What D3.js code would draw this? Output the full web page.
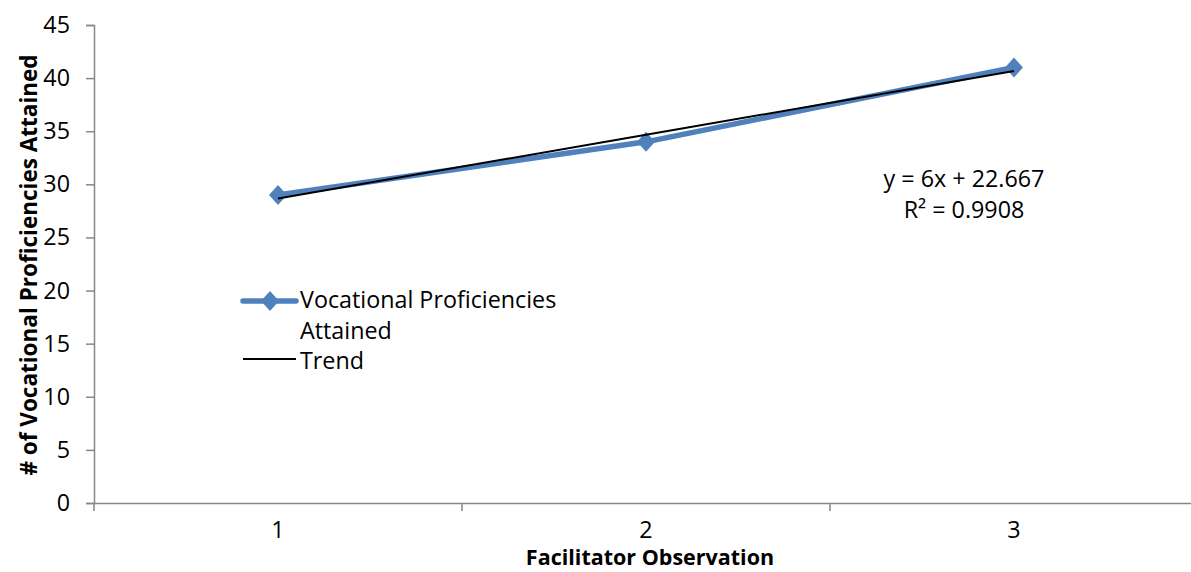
<!DOCTYPE html>
<html><head><meta charset="utf-8">
<script src="https://cdn.jsdelivr.net/npm/d3@7"></script>
<style>body{margin:0;background:#fff}svg{display:block}text{font-family:"Open Sans",sans-serif}</style>
</head><body><svg id="c" width="1191" height="572"></svg>
<script>
const categories = ["1","2","3"];
const values = [29, 34, 41];
const yTicks = [0,5,10,15,20,25,30,35,40,45];
const trendSlope = 6, trendIntercept = 22.667;
const trendLabel = ["y = 6x + 22.667", "R² = 0.9908"];
const seriesName = "Vocational Proficiencies";
const seriesName2 = "Attained";
const trendName = "Trend";
const xTitle = "Facilitator Observation";
const yTitle = "# of Vocational Proficiencies Attained";

const svg = d3.select("#c");
const L = 94, R = 1198, T = 25, B = 503;
const x = d3.scaleBand().domain(categories).range([L, R]);
const y = d3.scaleLinear().domain([0,45]).range([B, T]);
const cx = c => x(c) + x.bandwidth()/2;
const axisColor = "#878787";
const FS = 23.3;

// y axis
const ya = svg.append("g").attr("transform",`translate(${L},0)`)
  .call(d3.axisLeft(y).tickValues(yTicks).tickSize(8).tickPadding(16));
ya.select(".domain").attr("stroke",axisColor).attr("stroke-width",1.5);
ya.selectAll(".tick line").attr("stroke",axisColor).attr("stroke-width",1.5);
ya.selectAll("text").attr("font-size",FS).attr("fill","#000").attr("font-family",null);

// x axis
const xa = svg.append("g").attr("transform",`translate(0,${B})`)
  .call(d3.axisBottom(x).tickSize(0).tickPadding(18));
xa.select(".domain").attr("stroke",axisColor).attr("stroke-width",1.5);
xa.selectAll("text").attr("font-size",FS).attr("fill","#000").attr("font-family",null);
const bounds = [L].concat(categories.map(c => x(c)+x.bandwidth()));
svg.append("g").selectAll("line").data(bounds).join("line")
  .attr("x1",d=>d).attr("x2",d=>d).attr("y1",B).attr("y2",B+8)
  .attr("stroke",axisColor).attr("stroke-width",1.5);

// titles
svg.append("text").attr("x",650).attr("y",565).attr("text-anchor","middle")
  .attr("font-size",21.5).attr("font-weight","bold").text(xTitle);
svg.append("text").attr("transform",`translate(37,265) rotate(-90)`)
  .attr("text-anchor","middle").attr("font-size",22.5).attr("font-weight","bold").text(yTitle);

// series line
const blue = "#4F81BD";
const line = d3.line().x((d,i)=>cx(categories[i])).y(d=>y(d));
svg.append("path").datum(values).attr("d",line).attr("fill","none")
  .attr("stroke",blue).attr("stroke-width",5.5).attr("stroke-linejoin","round");
const diamondType = { draw(ctx, size){ const w=9, h=10; ctx.moveTo(0,-h); ctx.lineTo(w,0); ctx.lineTo(0,h); ctx.lineTo(-w,0); ctx.closePath(); } };
const diamond = d3.symbol().type(diamondType);
svg.append("g").selectAll("path").data(values).join("path")
  .attr("transform",(d,i)=>`translate(${cx(categories[i])},${y(d)})`)
  .attr("d",diamond).attr("fill",blue);

// trend
const trendX = categories.map((c,i)=>i+1);
svg.append("path").datum(trendX).attr("fill","none").attr("stroke","#000").attr("stroke-width",2)
  .attr("d", d3.line().x((d,i)=>cx(categories[i])).y(d=>y(trendSlope*d+trendIntercept)));

// trend label
svg.append("g").selectAll("text").data(trendLabel).join("text")
  .attr("x",964).attr("y",(d,i)=>187+i*31).attr("text-anchor","middle")
  .attr("font-size",FS).attr("fill","#000").text(d=>d);

// legend
const lg = svg.append("g");
lg.append("line").attr("x1",243).attr("x2",296).attr("y1",301).attr("y2",301)
  .attr("stroke",blue).attr("stroke-width",5.5).attr("stroke-linecap","round");
lg.append("path").attr("transform","translate(270,301)").attr("d",diamond).attr("fill",blue);
lg.append("text").attr("x",300).attr("y",308).attr("font-size",FS).text(seriesName);
lg.append("text").attr("x",300).attr("y",339).attr("font-size",FS).text(seriesName2);
lg.append("line").attr("x1",243).attr("x2",296).attr("y1",359).attr("y2",359)
  .attr("stroke","#000").attr("stroke-width",2);
lg.append("text").attr("x",300).attr("y",369).attr("font-size",FS).text(trendName);
</script></body></html>
